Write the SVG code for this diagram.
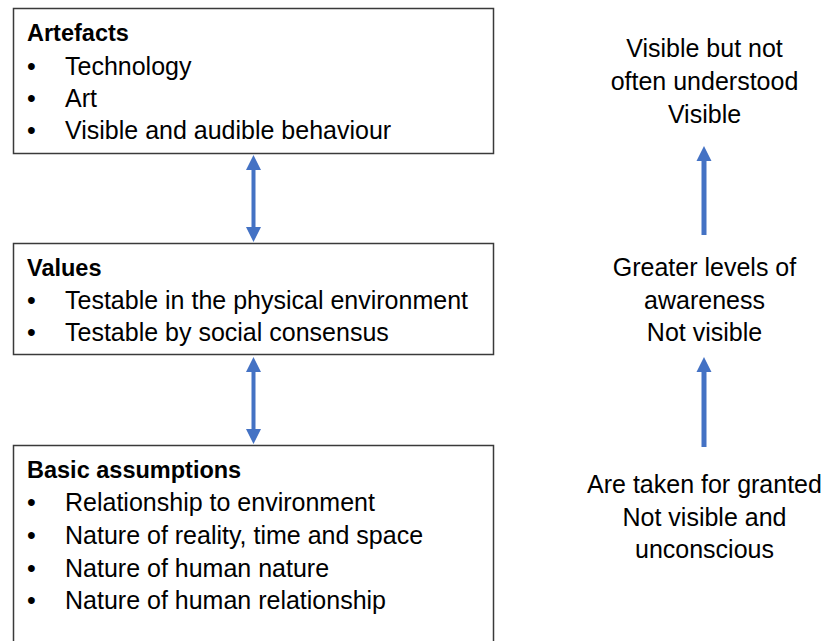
<svg xmlns="http://www.w3.org/2000/svg" width="829" height="641" viewBox="0 0 829 641">
<style>
  .box { fill: #ffffff; stroke: #3a3a3a; stroke-width: 1.5; }
  .t { font-family: "Liberation Sans", Arial, sans-serif; font-size: 25px; fill: #000000; }
  .h { font-family: "Liberation Sans", Arial, sans-serif; font-size: 23.5px; font-weight: bold; fill: #000000; }
  .c { text-anchor: middle; }
  .arr { fill: #4472C4; stroke: none; }
</style>
<rect width="829" height="641" fill="#ffffff"/>

<g id="artefacts">
  <rect class="box" x="13.5" y="8.5" width="480" height="145"/>
  <text class="h" x="27" y="41">Artefacts</text>
  <text class="t" x="27" y="75">•</text><text class="t" x="65" y="75">Technology</text>
  <text class="t" x="27" y="107">•</text><text class="t" x="65" y="107">Art</text>
  <text class="t" x="27" y="139">•</text><text class="t" x="65" y="139">Visible and audible behaviour</text>
</g>

<g id="values">
  <rect class="box" x="13.5" y="243.5" width="480" height="111"/>
  <text class="h" x="27" y="276">Values</text>
  <text class="t" x="27" y="309">•</text><text class="t" x="65" y="309">Testable in the physical environment</text>
  <text class="t" x="27" y="341">•</text><text class="t" x="65" y="341">Testable by social consensus</text>
</g>

<g id="basic-assumptions">
  <rect class="box" x="13.5" y="445.5" width="480" height="205"/>
  <text class="h" x="27" y="478">Basic assumptions</text>
  <text class="t" x="27" y="511">•</text><text class="t" x="65" y="511">Relationship to environment</text>
  <text class="t" x="27" y="544">•</text><text class="t" x="65" y="544">Nature of reality, time and space</text>
  <text class="t" x="27" y="577">•</text><text class="t" x="65" y="577">Nature of human nature</text>
  <text class="t" x="27" y="609">•</text><text class="t" x="65" y="609">Nature of human relationship</text>
</g>

<g id="label-visible">
  <text class="t c" x="704.5" y="57">Visible but not</text>
  <text class="t c" x="704.5" y="90">often understood</text>
  <text class="t c" x="704.5" y="123">Visible</text>
</g>

<g id="label-awareness">
  <text class="t c" x="704.5" y="276">Greater levels of</text>
  <text class="t c" x="704.5" y="309">awareness</text>
  <text class="t c" x="704.5" y="341">Not visible</text>
</g>

<g id="label-granted">
  <text class="t c" x="704.5" y="493">Are taken for granted</text>
  <text class="t c" x="704.5" y="526">Not visible and</text>
  <text class="t c" x="704.5" y="558">unconscious</text>
</g>

<g id="connectors">
  <polygon class="arr" points="253.5,155 261,170 255.5,170 255.5,227 261,227 253.5,242 246,227 251.5,227 251.5,170 246,170"/>
  <polygon class="arr" points="253.5,357 261,372 255.5,372 255.5,429 261,429 253.5,444 246,429 251.5,429 251.5,372 246,372"/>
  <polygon class="arr" points="704,146 711.5,161 706.5,161 706.5,235 701.5,235 701.5,161 696.5,161"/>
  <polygon class="arr" points="704,357 711.5,372 706.5,372 706.5,447 701.5,447 701.5,372 696.5,372"/>
</g>
</svg>
